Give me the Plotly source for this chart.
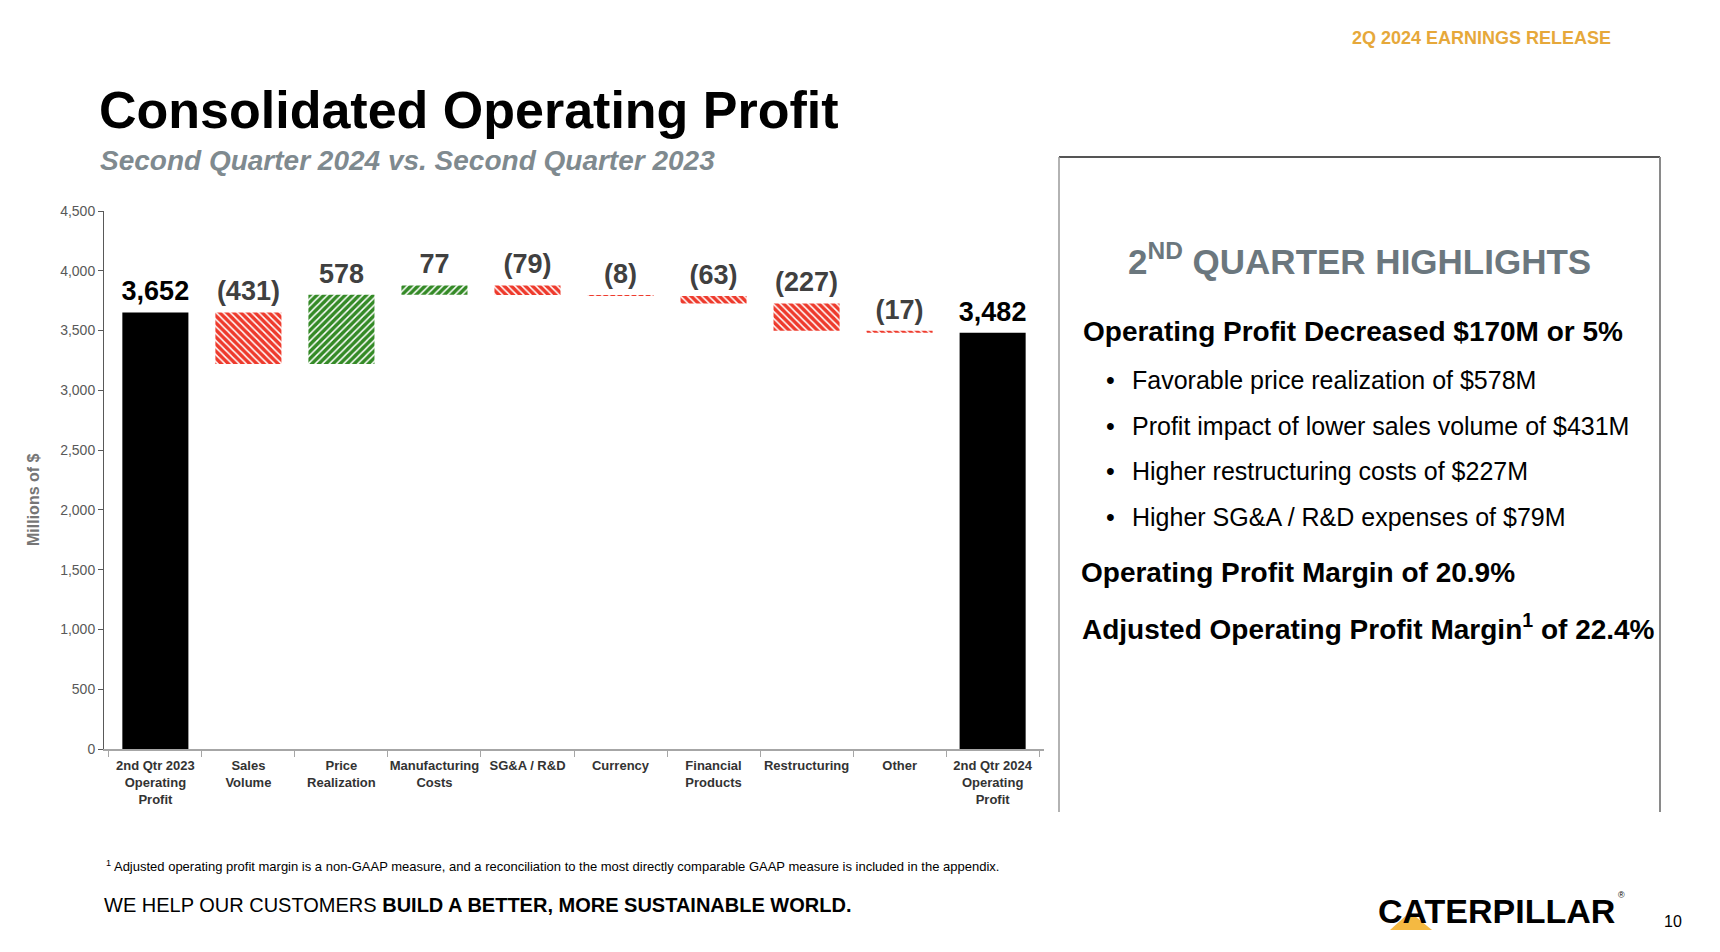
import plotly.graph_objects as go

# page size; the browser puts the figure 8px in from the page corner
W, H = 1704, 936
OFF = 8
# plot area in page pixels
X0, X1 = 104, 1044
Y0, Y1 = 211, 749

FONT = "Liberation Sans, Arial, sans-serif"

# ---- data ----
categories = ["2nd Qtr 2023<br>Operating<br>Profit", "Sales<br>Volume", "Price<br>Realization",
              "Manufacturing<br>Costs", "SG&A / R&D", "Currency", "Financial<br>Products",
              "Restructuring", "Other", "2nd Qtr 2024<br>Operating<br>Profit"]
start_total = 3652
changes = [-431, 578, 77, -79, -8, -63, -227, -17]
end_total = 3482

highlights = ["Favorable price realization of $578M",
              "Profit impact of lower sales volume of $431M",
              "Higher restructuring costs of $227M",
              "Higher SG&A / R&D expenses of $79M"]

RED = "#ee3a2c"
GREEN = "#348a26"


def px(x):
    return (x - X0) / (X1 - X0)


def py(y):
    return (Y1 - y) / (Y1 - Y0)


# running totals -> bar bases / heights
tot_x = [categories[0], categories[-1]]
tot_y = [start_total, end_total]
up_x, up_b, up_h = [], [], []
dn_x, dn_b, dn_h = [], [], []
tops = [start_total]
labels, label_cols = [f"{start_total:,}"], ["#000000"]
level = start_total
for cat, d in zip(categories[1:-1], changes):
    new = level + d
    if d < 0:
        dn_x.append(cat); dn_b.append(new); dn_h.append(-d)
        labels.append(f"({-d})")
    else:
        up_x.append(cat); up_b.append(level); up_h.append(d)
        labels.append(f"{d:,}")
    tops.append(max(level, new))
    label_cols.append("#404040")
    level = new
tops.append(end_total)
labels.append(f"{end_total:,}")
label_cols.append("#000000")

fig = go.Figure()
fig.add_trace(go.Bar(x=tot_x, y=tot_y, marker=dict(color="#000000", line=dict(width=0)),
                     hoverinfo="skip"))
fig.add_trace(go.Bar(x=dn_x, y=dn_h, base=dn_b,
                     marker=dict(color="white", line=dict(width=0),
                                 pattern=dict(shape="\\", fgcolor=RED, bgcolor="white", fgopacity=1,
                                              size=5, solidity=0.7)),
                     hoverinfo="skip"))
fig.add_trace(go.Bar(x=up_x, y=up_h, base=up_b,
                     marker=dict(color="white", line=dict(width=0),
                                 pattern=dict(shape="/", fgcolor=GREEN, bgcolor="white", fgopacity=1,
                                              size=5, solidity=0.7)),
                     hoverinfo="skip"))
fig.add_trace(go.Scatter(
    x=categories, y=tops, mode="markers+text", text=labels, textposition="top center",
    marker=dict(size=7, color="rgba(0,0,0,0)"),
    textfont=dict(size=27, color=label_cols, family=FONT, weight="bold"),
    cliponaxis=False, hoverinfo="skip"))

fig.update_layout(
    width=W, height=H,
    margin=dict(l=X0 - OFF, r=W - (X1 - OFF), t=Y0 - OFF, b=H - (Y1 - OFF)),
    plot_bgcolor="white", paper_bgcolor="white", showlegend=False,
    bargap=0.29, barmode="overlay", font=dict(family=FONT, color="#333333"))
fig.update_yaxes(range=[0, 4500], dtick=500, tickformat=",", showgrid=False, zeroline=False,
                 showline=True, linecolor="#595959", linewidth=1, ticks="outside", ticklen=5,
                 tickcolor="#595959", tickfont=dict(size=14, color="#595959"))
fig.update_xaxes(categoryorder="array", categoryarray=categories,
                 showgrid=False, showline=True, linecolor="#a6a6a6", linewidth=1.5,
                 ticks="outside", tickson="boundaries", ticklen=6, tickcolor="#a6a6a6",
                 ticklabelstandoff=4,
                 tickfont=dict(size=13, color="#333333", weight="bold"), tickangle=0)

ann = []


def add_text(x, y, text, size, color="#000000", weight="normal", xanchor="left", style="normal", angle=0):
    # x, y in page pixels; y is the middle of the text line
    ann.append(dict(x=px(x), y=py(y), xref="paper", yref="paper", text=text, showarrow=False,
                    xanchor=xanchor, yanchor="middle", textangle=angle,
                    font=dict(family=FONT, size=size, color=color, weight=weight, style=style)))


add_text(1613, 38, "2Q 2024 EARNINGS RELEASE", 18, "#e6a83a", "bold", "right")
add_text(97, 110, "Consolidated Operating Profit", 52, "#000000", "bold")
add_text(98, 160, "Second Quarter 2024 vs. Second Quarter 2023", 28, "#7f8a8f", "bold", style="italic")
add_text(33, 500, "<b>Millions of $</b>", 16, "#767676", "bold", "center", angle=-90)

# highlights panel
add_text(1359, 259, "2<sup>ND</sup> QUARTER HIGHLIGHTS", 35, "#6b777e", "bold", "center")
add_text(1081, 331, "Operating Profit Decreased $170M or 5%", 28, "#000000", "bold")
for i, t in enumerate(highlights):
    yy = 380 + i * 45.7
    add_text(1110, yy, "•", 25, "#000000", "normal", "center")
    add_text(1130, yy, t, 25, "#000000")
add_text(1079, 572, "Operating Profit Margin of 20.9%", 28, "#000000", "bold")
add_text(1080, 627, "Adjusted Operating Profit Margin<sup>1</sup> of 22.4%", 28, "#000000", "bold")

# footer
add_text(104, 866, "<sup>1</sup> Adjusted operating profit margin is a non-GAAP measure, and a reconciliation "
         "to the most directly comparable GAAP measure is included in the appendix.", 13, "#000000")
add_text(102, 905, "WE HELP OUR CUSTOMERS <b>BUILD A BETTER, MORE SUSTAINABLE WORLD.</b>", 20, "#000000")
add_text(1376, 911, "CATERPILLAR", 34, "#000000", "bold")
add_text(1621, 895, "®", 9, "#000000", "normal", "center")
add_text(1673, 922, "10", 16, "#000000", "normal", "center")
fig.update_layout(annotations=ann)

# panel frame and logo triangle
shp = [
    dict(type="line", xref="paper", yref="paper", x0=px(1059), x1=px(1660), y0=py(157), y1=py(157),
         line=dict(color="#555555", width=2)),
    dict(type="line", xref="paper", yref="paper", x0=px(1059), x1=px(1059), y0=py(157), y1=py(812),
         line=dict(color="#9a9a9a", width=1.5)),
    dict(type="line", xref="paper", yref="paper", x0=px(1660), x1=px(1660), y0=py(157), y1=py(812),
         line=dict(color="#8a8a8a", width=2)),
    dict(type="path", xref="paper", yref="paper", layer="above",
         path=f"M {px(1390)} {py(930)} L {px(1410)} {py(912)} L {px(1432)} {py(930)} Z",
         fillcolor="#f4b942", line=dict(width=0)),
]
fig.update_layout(shapes=shp)

fig.write_html("out.html")
